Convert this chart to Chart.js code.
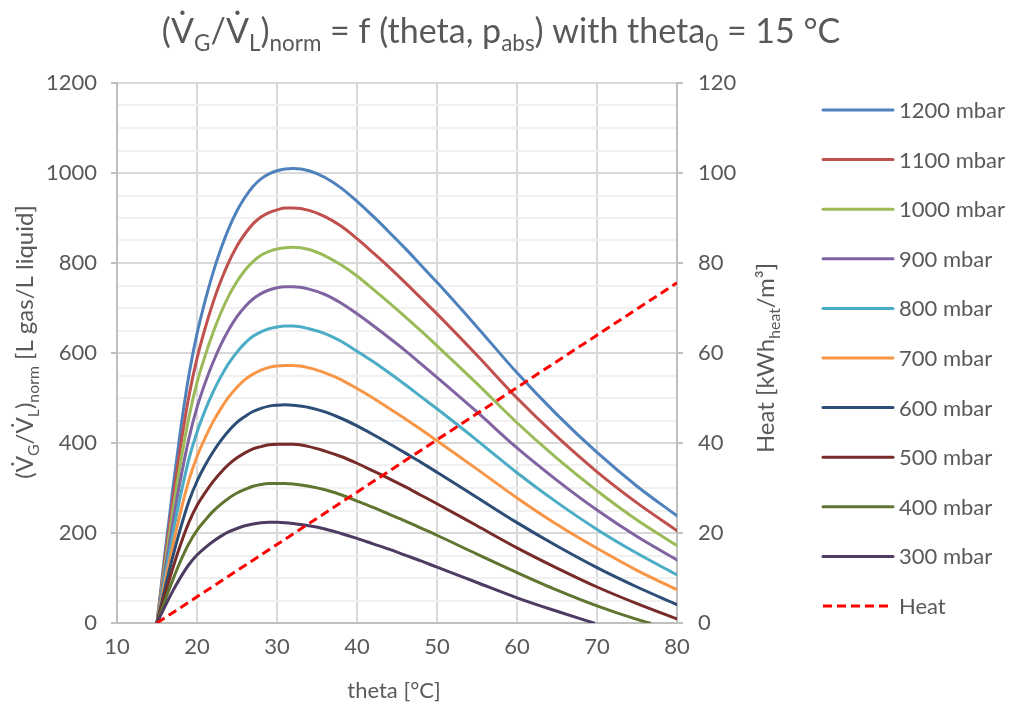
<!DOCTYPE html>
<html>
<head>
<meta charset="utf-8">
<title>Gas volume vs. temperature</title>
<script src="https://cdn.jsdelivr.net/npm/chart.js@4.4.1/dist/chart.umd.min.js"></script>
<style>
html, body { margin: 0; padding: 0; background: #ffffff; }
#wrap { position: relative; width: 1009px; height: 706px; }
</style>
</head>
<body>
<div id="wrap"><canvas id="chart"></canvas></div>
<script>
// temperature grid (°C) shared by the pressure curves
const theta = [15, 16, 17, 18, 19, 20, 21, 22, 23, 24, 25, 26, 27, 28, 29, 30, 31, 32, 34, 36, 38, 40, 42, 44, 46, 48, 50, 55, 60, 65, 70, 75, 80];

// (V_G/V_L)norm in L gas / L liquid, one array per absolute pressure
const p1200 = [0, 156, 302, 436, 552, 643, 715, 778, 832, 878, 916, 946, 970, 987, 998, 1005, 1009, 1010, 1005, 990, 967, 937, 904, 869, 833, 795, 757, 658, 556, 463, 379, 304, 238];
const p1100 = [0, 143, 276, 399, 505, 588, 654, 712, 761, 803, 838, 865, 887, 902, 912, 918, 922, 922, 917, 903, 882, 854, 823, 791, 757, 722, 687, 595, 500, 414, 336, 267, 205];
const p1000 = [0, 130, 251, 362, 458, 534, 593, 645, 690, 728, 759, 784, 803, 817, 826, 831, 834, 835, 830, 816, 796, 771, 742, 712, 681, 649, 616, 532, 445, 366, 294, 229, 172];
const p900  = [0, 116, 225, 325, 411, 479, 533, 579, 619, 653, 681, 703, 720, 732, 740, 745, 747, 747, 742, 730, 711, 687, 661, 634, 606, 576, 546, 469, 389, 317, 251, 192, 140];
const p800  = [0, 103, 200, 288, 365, 424, 472, 513, 548, 578, 602, 622, 637, 647, 654, 658, 660, 660, 654, 643, 626, 604, 581, 556, 530, 503, 476, 406, 334, 268, 208, 155, 107];
const p700  = [0, 90, 174, 251, 318, 370, 411, 447, 477, 503, 524, 541, 553, 562, 568, 571, 572, 572, 567, 556, 541, 521, 500, 477, 454, 430, 405, 342, 278, 219, 166, 117, 74];
const p600  = [0, 77, 149, 214, 271, 315, 350, 380, 406, 428, 446, 459, 470, 477, 482, 484, 485, 484, 479, 469, 455, 438, 419, 399, 378, 357, 335, 279, 223, 171, 123, 80, 41];
const p500  = [0, 64, 123, 177, 224, 261, 289, 314, 335, 353, 367, 378, 387, 392, 396, 397, 397, 397, 392, 382, 370, 355, 338, 321, 303, 284, 265, 216, 167, 122, 80, 43, 9];
const p400  = [0, 50, 97, 140, 177, 206, 228, 248, 264, 278, 289, 297, 304, 308, 310, 310, 310, 309, 304, 296, 285, 271, 257, 242, 227, 211, 195, 153, 112, 73, 38, 8];
const p300  = [0, 37, 72, 103, 130, 151, 167, 181, 193, 203, 210, 216, 220, 223, 224, 224, 223, 221, 216, 209, 199, 188, 176, 164, 151, 138, 124, 90, 56, 26];
// where the low-pressure curves reach zero
const end400 = [76.6, 0];
const end300 = [69.6, 0];

// heat demand, kWh_heat / m³
const heatTheta = [15, 80];
const heatVals = [0, 75.6];

const labels = ['1200 mbar', '1100 mbar', '1000 mbar', '900 mbar', '800 mbar', '700 mbar', '600 mbar', '500 mbar', '400 mbar', '300 mbar'];
const curves = [p1200, p1100, p1000, p900, p800, p700, p600, p500, p400, p300];
const colors = ['#4f81bd', '#c0504d', '#9bbb59', '#8064a2', '#4bacc6', '#f79646', '#2c4d75', '#772c2a', '#5f7530', '#4d3b62'];

const FONT = 'Lato, "DejaVu Sans", sans-serif';
const GREY = '#595959';

function toPoints(xs, ys) {
  return ys.map(function(y, i) { return { x: xs[i], y: y }; });
}

const datasets = curves.map(function(vals, i) {
  const pts = toPoints(theta, vals);
  if (vals === p400) pts.push({ x: end400[0], y: end400[1] });
  if (vals === p300) pts.push({ x: end300[0], y: end300[1] });
  return {
    label: labels[i], data: pts, yAxisID: 'y',
    borderColor: colors[i], borderWidth: 3, borderCapStyle: 'round',
    pointRadius: 0, cubicInterpolationMode: 'monotone', order: 20 - i
  };
});
datasets.push({
  label: 'Heat', data: toPoints(heatTheta, heatVals), yAxisID: 'y2',
  borderColor: '#ff0000', borderWidth: 3, borderDash: [9, 5],
  pointRadius: 0, tension: 0, order: 0
});

// text runs: [text, 'sub' | 'sup' | undefined], centred on cx
function drawRich(ctx, parts, cx, baseY, size) {
  let total = 0;
  const items = parts.map(function(p) {
    const s = p[1] ? size * 0.66 : size;
    ctx.font = s + 'px ' + FONT;
    const w = ctx.measureText(p[0]).width;
    total += w;
    return { t: p[0], k: p[1], s: s, w: w };
  });
  let x = cx - total / 2;
  ctx.textAlign = 'left';
  ctx.textBaseline = 'alphabetic';
  items.forEach(function(it) {
    ctx.font = it.s + 'px ' + FONT;
    const dy = it.k === 'sub' ? size * 0.24 : (it.k === 'sup' ? -size * 0.42 : 0);
    ctx.fillText(it.t, x, baseY + dy);
    x += it.w;
  });
}

const titleParts = [['(V\u0307'], ['G', 'sub'], ['/V\u0307'], ['L', 'sub'], [')'], ['norm', 'sub'],
  [' = f (theta, p'], ['abs', 'sub'], [') with theta'], ['0', 'sub'], [' = 15 \u00b0C']];
const yTitleParts = [['(V\u0307'], ['G', 'sub'], ['/V\u0307'], ['L', 'sub'], [')'], ['norm', 'sub'], [' [L gas/L liquid]']];
const y2TitleParts = [['Heat [kWh'], ['heat', 'sub'], ['/m\u00b3]']];
const xTitleParts = [['theta [\u00b0C]']];

const annotations = {
  id: 'annotations',
  afterDraw(chart) {
    const ctx = chart.ctx;
    ctx.save();
    ctx.fillStyle = GREY;
    drawRich(ctx, titleParts, 501, 43, 34);
    drawRich(ctx, xTitleParts, 394, 698, 22);
    ctx.save();
    ctx.translate(33, 342);
    ctx.rotate(-Math.PI / 2);
    drawRich(ctx, yTitleParts, 0, 0, 24);
    ctx.restore();
    ctx.save();
    ctx.translate(774, 358);
    ctx.rotate(-Math.PI / 2);
    drawRich(ctx, y2TitleParts, 0, 0, 24);
    ctx.restore();

    // legend column on the right
    chart.data.datasets.forEach(function(ds, i) {
      const y = 110 + i * 49.6;
      ctx.strokeStyle = ds.borderColor;
      ctx.lineWidth = 3;
      ctx.lineCap = ds.borderDash ? 'butt' : 'round';
      ctx.setLineDash(ds.borderDash || []);
      ctx.beginPath();
      ctx.moveTo(823, y);
      ctx.lineTo(893, y);
      ctx.stroke();
      ctx.setLineDash([]);
      ctx.fillStyle = GREY;
      ctx.font = '22px ' + FONT;
      ctx.textAlign = 'left';
      ctx.textBaseline = 'middle';
      ctx.fillText(ds.label, 899, y + 1);
    });
    ctx.restore();
  }
};

Chart.defaults.font.family = FONT;
Chart.defaults.color = GREY;

new Chart(document.getElementById('chart'), {
  type: 'line',
  data: { datasets: datasets },
  plugins: [annotations],
  options: {
    responsive: true, maintainAspectRatio: false, animation: false,
    layout: { padding: { top: 83, right: 232, left: 0, bottom: 0 } },
    plugins: { legend: { display: false }, title: { display: false }, tooltip: { enabled: false } },
    scales: {
      x: {
        type: 'linear', min: 10, max: 80,
        ticks: { stepSize: 10, font: { size: 22 }, padding: 11, maxRotation: 0 },
        grid: { color: '#d9d9d9', lineWidth: 2, drawTicks: false },
        border: { color: '#bfbfbf', width: 2 },
        afterFit: function(s) { s.height = 83; }
      },
      y: {
        position: 'left', min: 0, max: 1200,
        ticks: {
          stepSize: 50, autoSkip: false, font: { size: 22 }, padding: 14,
          callback: function(v) { return v % 200 === 0 ? v : ''; }
        },
        grid: {
          lineWidth: 2, tickLength: 6,
          color: function(c) { return c.tick && c.tick.value % 200 === 0 ? '#d9d9d9' : '#f0f0f0'; },
          tickColor: function(c) { return c.tick && c.tick.value % 200 === 0 ? '#bfbfbf' : 'rgba(0,0,0,0)'; }
        },
        border: { color: '#bfbfbf', width: 2 },
        afterFit: function(s) { s.width = 117; }
      },
      y2: {
        position: 'right', min: 0, max: 120,
        ticks: { stepSize: 20, font: { size: 22 }, padding: 15 },
        grid: { drawOnChartArea: false, tickLength: 6, color: '#bfbfbf', lineWidth: 2 },
        border: { color: '#bfbfbf', width: 2 },
        afterFit: function(s) { s.width = 100; }
      }
    }
  }
});
</script>
</body>
</html>
